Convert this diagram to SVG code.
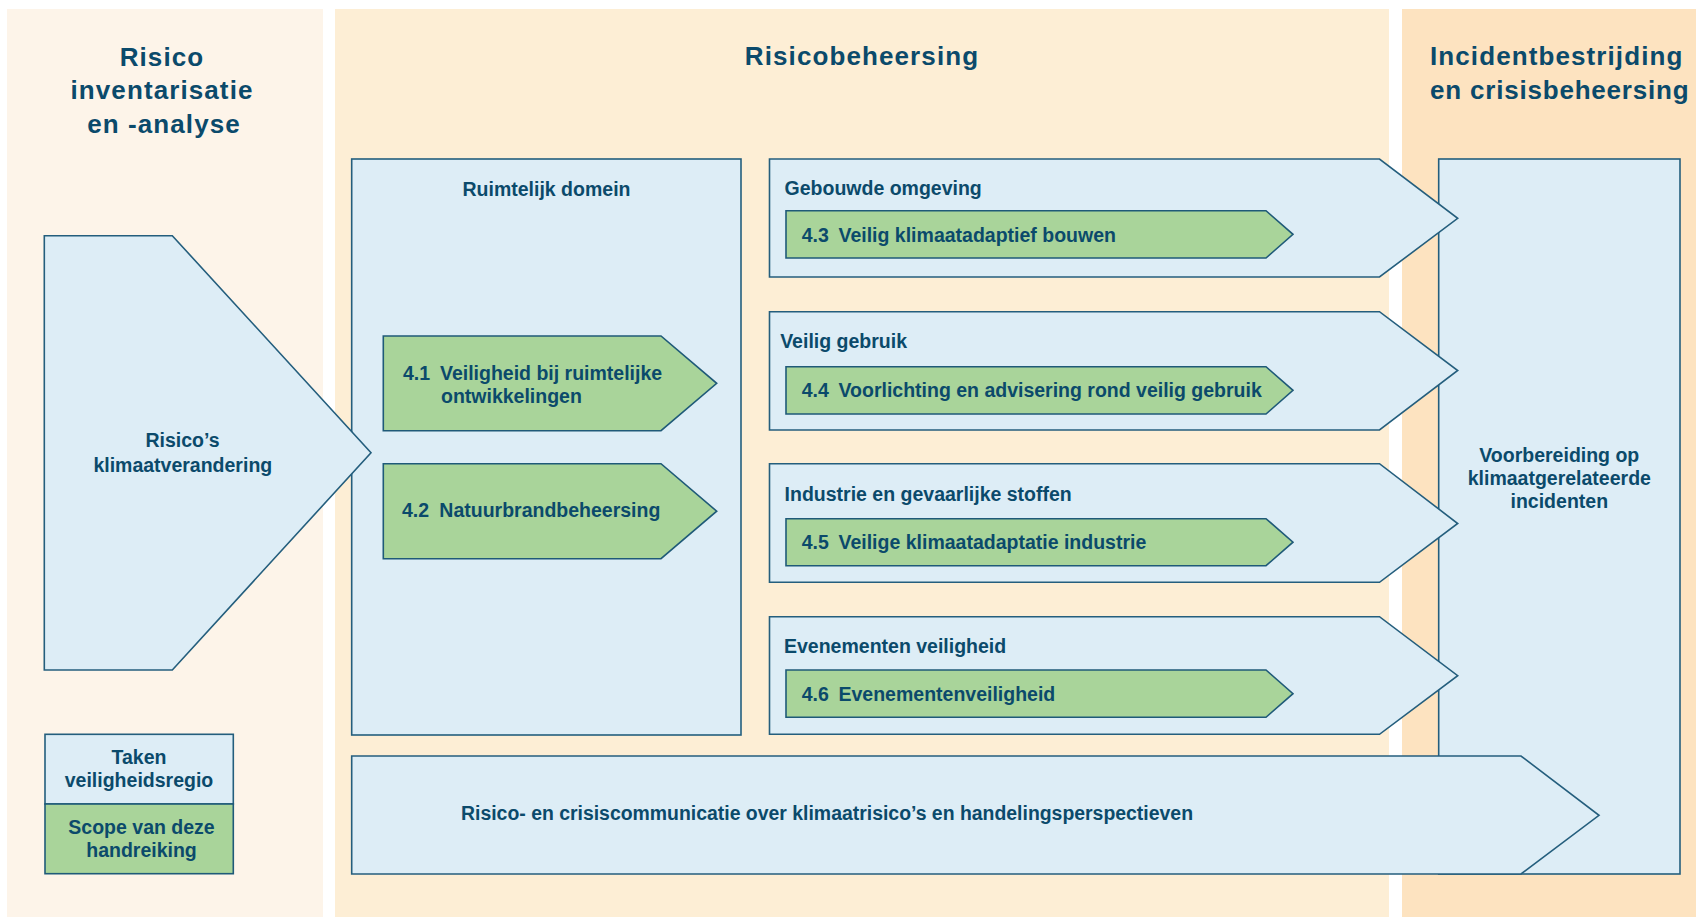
<svg xmlns="http://www.w3.org/2000/svg" width="1696" height="917" viewBox="0 0 1696 917">
  <style>
    .panel1{fill:#fdf4e9}
    .panel2{fill:#fdeed5}
    .panel3{fill:#fde3c0}
    .blue{fill:#ddedf6;stroke:#245e7d;stroke-width:1.6;stroke-linejoin:miter}
    .green{fill:#a9d49a;stroke:#1f5a78;stroke-width:1.6;stroke-linejoin:miter}
    text{font-family:"Liberation Sans",Arial,sans-serif;font-weight:bold;fill:#0b4a6b}
    .title{font-size:26px;letter-spacing:1.1px}
    .lbl{font-size:19.5px}
    .mid{text-anchor:middle}
  </style>
  <rect x="0" y="0" width="1696" height="917" fill="#ffffff"/>
  <g id="panels">
    <rect class="panel1" x="7" y="9" width="316" height="908"/>
    <rect class="panel2" x="335" y="9" width="1054" height="908"/>
    <rect class="panel3" x="1402" y="9" width="294" height="908"/>
    <text class="title mid" x="162" y="65.5">Risico</text>
    <text class="title mid" x="162" y="99">inventarisatie</text>
    <text class="title mid" x="164" y="132.5">en -analyse</text>
    <text class="title mid" x="862" y="65">Risicobeheersing</text>
    <text class="title" x="1430" y="65">Incidentbestrijding</text>
    <text class="title" x="1430" y="99.3" style="letter-spacing:0.8px">en crisisbeheersing</text>
  </g>
  <g id="ruimtelijk">
    <rect class="blue" x="351.7" y="159" width="389.3" height="576"/>
    <text class="lbl mid" x="546.5" y="196">Ruimtelijk domein</text>
  </g>
  <g id="voorbereiding">
    <rect class="blue" x="1438.7" y="159" width="241.3" height="715"/>
    <text class="lbl mid" x="1559.3" y="461.7">Voorbereiding op</text>
    <text class="lbl mid" x="1559.3" y="485">klimaatgerelateerde</text>
    <text class="lbl mid" x="1559.3" y="508.3">incidenten</text>
  </g>
  <g id="connectors">
    <g id="risico-klimaat">
      <polygon class="blue" points="44.3,235.7 172.3,235.7 371,452.7 172.3,670 44.3,670"/>
      <text class="lbl mid" x="182.5" y="446.7">Risico’s</text>
      <text class="lbl mid" x="182.8" y="471.7">klimaatverandering</text>
    </g>
    <g id="gebouwde">
      <polygon class="blue" points="769.5,159 1379.5,159 1457.7,218.3 1379.5,277 769.5,277"/>
      <text class="lbl" x="784.6" y="195">Gebouwde omgeving</text>
    </g>
    <g id="veilig-gebruik">
      <polygon class="blue" points="769.5,311.7 1379.5,311.7 1457.7,370.5 1379.5,430 769.5,430"/>
      <text class="lbl" x="780.2" y="348.3">Veilig gebruik</text>
    </g>
    <g id="industrie">
      <polygon class="blue" points="769.5,463.7 1379.5,463.7 1457.7,523.5 1379.5,582.3 769.5,582.3"/>
      <text class="lbl" x="784.6" y="501">Industrie en gevaarlijke stoffen</text>
    </g>
    <g id="evenementen">
      <polygon class="blue" points="769.5,616.7 1379.5,616.7 1457.7,675.7 1379.5,734.3 769.5,734.3"/>
      <text class="lbl" x="784" y="653.3">Evenementen veiligheid</text>
    </g>
    <g id="communicatie">
      <polygon class="blue" points="351.7,756 1521,756 1599,815.3 1521,874 351.7,874"/>
      <text class="lbl" x="461" y="820" textLength="732" lengthAdjust="spacingAndGlyphs">Risico- en crisiscommunicatie over klimaatrisico’s en handelingsperspectieven</text>
    </g>
  </g>
  <g id="n41">
    <polygon class="green" points="383.3,336 661,336 716.7,383.3 661,430.7 383.3,430.7"/>
    <text class="lbl" x="403" y="380">4.1</text>
    <text class="lbl" x="440" y="380">Veiligheid bij ruimtelijke</text>
    <text class="lbl" x="441" y="403.3">ontwikkelingen</text>
  </g>
  <g id="n42">
    <polygon class="green" points="383.3,463.7 661,463.7 716.7,511.2 661,558.7 383.3,558.7"/>
    <text class="lbl" x="402" y="516.7">4.2</text>
    <text class="lbl" x="439.3" y="516.7">Natuurbrandbeheersing</text>
  </g>
  <g id="n43">
    <polygon class="green" points="786,210.7 1266,210.7 1293,234.3 1266,258 786,258"/>
    <text class="lbl" x="801.7" y="241.5">4.3</text>
    <text class="lbl" x="838.5" y="241.5">Veilig klimaatadaptief bouwen</text>
  </g>
  <g id="n44">
    <polygon class="green" points="786,366.7 1266,366.7 1293,390.3 1266,414 786,414"/>
    <text class="lbl" x="801.7" y="397">4.4</text>
    <text class="lbl" x="838.5" y="397">Voorlichting en advisering rond veilig gebruik</text>
  </g>
  <g id="n45">
    <polygon class="green" points="786,518.7 1266,518.7 1293,542.2 1266,565.7 786,565.7"/>
    <text class="lbl" x="801.7" y="549">4.5</text>
    <text class="lbl" x="838.5" y="549">Veilige klimaatadaptatie industrie</text>
  </g>
  <g id="n46">
    <polygon class="green" points="786,670 1266,670 1293,693.7 1266,717.3 786,717.3"/>
    <text class="lbl" x="801.7" y="700.7">4.6</text>
    <text class="lbl" x="838.5" y="700.7">Evenementenveiligheid</text>
  </g>
  <g id="legend">
    <rect class="blue" x="45" y="734.3" width="188.3" height="69.7"/>
    <rect class="green" x="45" y="804" width="188.3" height="69.7"/>
    <text class="lbl mid" x="139" y="764">Taken</text>
    <text class="lbl mid" x="139" y="787.3">veiligheidsregio</text>
    <text class="lbl mid" x="141.5" y="834">Scope van deze</text>
    <text class="lbl mid" x="141.5" y="857.3">handreiking</text>
  </g>
</svg>
